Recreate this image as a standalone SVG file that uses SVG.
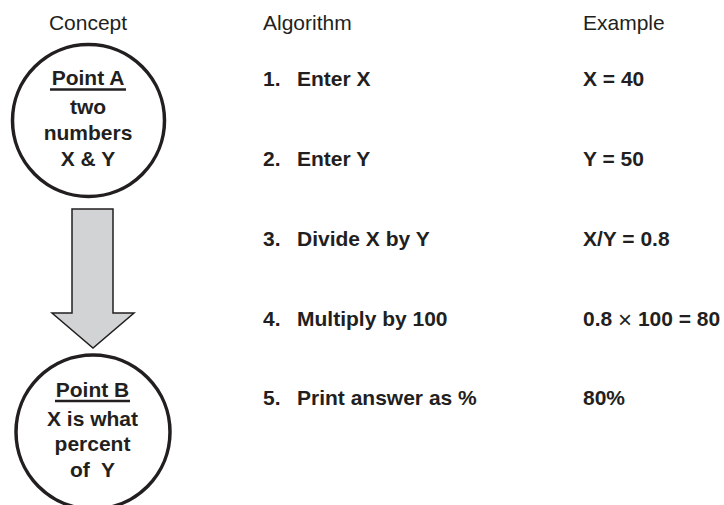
<svg xmlns="http://www.w3.org/2000/svg" width="724" height="505" viewBox="0 0 724 505">
<style>
text{font-family:"Liberation Sans",Arial,Helvetica,sans-serif;fill:#231f20;font-size:21px}
.h{font-weight:normal}
.b{font-weight:bold}
.c{text-anchor:middle}
.node{fill:#ffffff;stroke:#231f20;stroke-width:3.5}
.ul{stroke:#231f20;stroke-width:2.5}
.arrow{fill:#d1d3d4;stroke:#231f20;stroke-width:1.5;stroke-linejoin:miter}
</style>
<rect width="724" height="505" fill="#ffffff"/>
<g id="headers">
<text class="h c" x="88" y="30">Concept</text>
<text class="h" x="263" y="30">Algorithm</text>
<text class="h" x="583" y="30">Example</text>
</g>
<g id="connectors">
<path class="arrow" d="M72,209 L113,209 L113,313 L134,313 L93,348 L52,313 L72,313 Z"/>
</g>
<g id="pointA">
<circle class="node" cx="88.5" cy="120.5" r="76"/>
<text class="b c" x="88" y="85">Point A</text>
<line class="ul" x1="50" y1="89.5" x2="126" y2="89.5"/>
<text class="b c" x="88" y="114">two</text>
<text class="b c" x="88" y="140">numbers</text>
<text class="b c" x="88" y="166">X &amp; Y</text>
</g>
<g id="pointB">
<circle class="node" cx="93" cy="432" r="77"/>
<text class="b c" x="92.5" y="397">Point B</text>
<line class="ul" x1="55" y1="401" x2="130" y2="401"/>
<text class="b c" x="92.5" y="426">X is what</text>
<text class="b c" x="92.5" y="451">percent</text>
<text class="b c" x="92.5" y="477">of&#160; Y</text>
</g>
<g id="algorithm">
<text class="b" y="86"><tspan x="263">1.</tspan><tspan x="297">Enter X</tspan></text>
<text class="b" y="166"><tspan x="263">2.</tspan><tspan x="297">Enter Y</tspan></text>
<text class="b" y="246"><tspan x="263">3.</tspan><tspan x="297">Divide X by Y</tspan></text>
<text class="b" y="326"><tspan x="263">4.</tspan><tspan x="297">Multiply by 100</tspan></text>
<text class="b" y="405"><tspan x="263">5.</tspan><tspan x="297">Print answer as %</tspan></text>
</g>
<g id="example">
<text class="b" x="583" y="86">X = 40</text>
<text class="b" x="583" y="166">Y = 50</text>
<text class="b" x="583" y="246">X/Y = 0.8</text>
<text class="b" x="583" y="326">0.8 <tspan font-weight="normal" font-size="24" dy="2">×</tspan><tspan dy="-2"> 100 = 80</tspan></text>
<text class="b" x="583" y="405">80%</text>
</g>
</svg>
